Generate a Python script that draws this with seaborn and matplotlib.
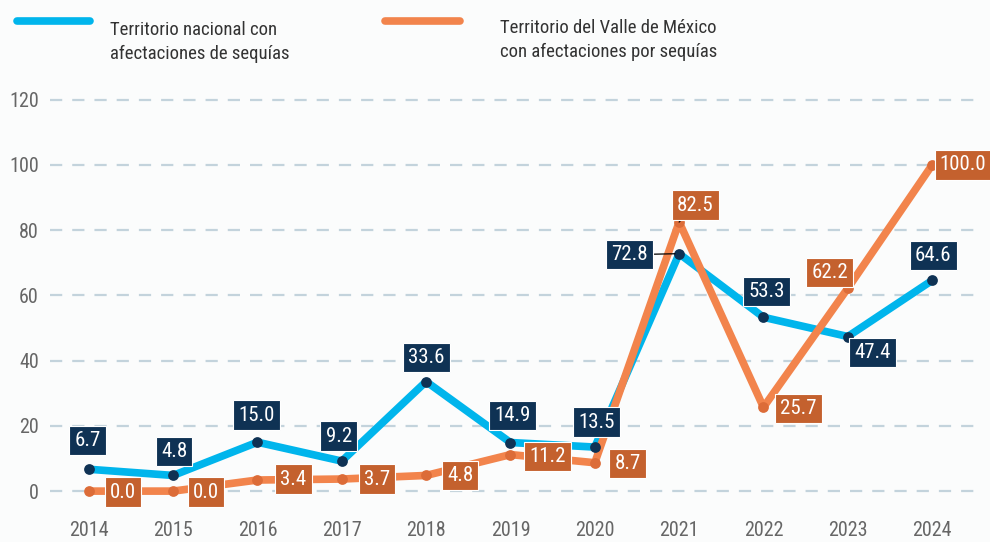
import matplotlib
matplotlib.use('Agg')
import matplotlib.pyplot as plt
from matplotlib import font_manager
from matplotlib.lines import Line2D
import pandas as pd
import seaborn as sns

# Data
years = [2014, 2015, 2016, 2017, 2018, 2019, 2020, 2021, 2022, 2023, 2024]
nacional = [6.7, 4.8, 15.0, 9.2, 33.6, 14.9, 13.5, 72.8, 53.3, 47.4, 64.6]
valle = [0.0, 0.0, 3.4, 3.7, 4.8, 11.2, 8.7, 82.5, 25.7, 62.2, 100.0]
y_ticks = [0, 20, 40, 60, 80, 100, 120]
label_nacional = 'Territorio nacional con\nafectaciones de sequías'
label_valle = 'Territorio del Valle de México\ncon afectaciones por sequías'

# label offsets in pixels (dx, dy)
off_nacional = [(-1, 29), (1, 24), (-1, 27), (-3, 25), (0, 24), (2, 27), (2, 25),
                (-50, -1), (3, 26), (25, -16), (1, 25)]
off_valle = [(34, -1), (33, -1), (36, 1), (35, 0), (34, 0), (37, -2), (33, -1),
             (16, 17), (35, -1), (-18, 16), (31, 0)]
leader_nacional = [False] * 7 + [True] + [False] * 3
leader_valle = [False] * 7 + [True] + [False] * 3

names = {f.name for f in font_manager.fontManager.ttflist}
family = next((n for n in ['Roboto Condensed', 'Liberation Sans Narrow', 'Open Sans Condensed',
                           'Noto Sans Condensed', 'DejaVu Sans'] if n in names), 'DejaVu Sans')

sns.set_style('white')
plt.rcParams['font.family'] = [family, 'DejaVu Sans']
plt.rcParams['font.stretch'] = 'condensed'

BLUE = '#00b5ec'
ORANGE = '#f2844c'
NAVY = '#0f3254'
RUST = '#c4612e'
BG = '#fbfcfc'

df = pd.DataFrame({
    'year': years * 2,
    'value': nacional + valle,
    'serie': ['nacional'] * len(years) + ['valle'] * len(years),
})

fig = plt.figure(figsize=(9.9, 5.42), dpi=100, facecolor=BG)
ax = fig.add_axes([0.0505, 0.059, 0.9345, 0.766])
ax.set_facecolor(BG)

for y in y_ticks:
    ax.axhline(y, color='#c3d3dc', lw=1.6, ls=(0, (5.5, 4.5)), zorder=0)

sns.lineplot(data=df, x='year', y='value', hue='serie', hue_order=['nacional', 'valle'],
             palette={'nacional': BLUE, 'valle': ORANGE}, lw=5.5, legend=False, ax=ax,
             solid_capstyle='round', solid_joinstyle='round')
ax.lines[-1].set_zorder(3)
ax.lines[-2].set_zorder(2)
ax.scatter(years, valle, s=60, color='#dc6c38', zorder=4, linewidths=0)
ax.scatter(years, nacional, s=60, color=NAVY, zorder=5, linewidths=0)


def labels(vals, offs, leads, fc):
    for x, v, (dx, dy), lead in zip(years, vals, offs, leads):
        ax.annotate(f'{v:.1f}', (x, v), xytext=(dx, dy), textcoords='offset pixels',
                    ha='center', va='center', fontsize=15, color='white', zorder=6,
                    bbox=dict(boxstyle='square,pad=0.25', fc=fc, ec='white', lw=0.8),
                    arrowprops=dict(arrowstyle='-', color='black', lw=0.9,
                                    shrinkA=0, shrinkB=3) if lead else None)


labels(nacional, off_nacional, leader_nacional, NAVY)
labels(valle, off_valle, leader_valle, RUST)

ax.set_xlim(2013.54, 2024.51)
ax.set_ylim(-5.8, 121.5)
ax.set_xticks(years)
ax.set_xticklabels([str(y) for y in years])
ax.set_yticks(y_ticks)
ax.tick_params(axis='both', length=0, labelsize=14.5, labelcolor='#666666')
ax.tick_params(axis='y', pad=8)
ax.tick_params(axis='x', pad=8)
ax.set_xlabel('')
ax.set_ylabel('')
sns.despine(ax=ax, left=True, bottom=True)

# legend
fig.add_artist(Line2D([17 / 990, 90 / 990], [1 - 21 / 542] * 2, color=BLUE, lw=5.5,
                      solid_capstyle='round', transform=fig.transFigure))
fig.add_artist(Line2D([385 / 990, 460 / 990], [1 - 21 / 542] * 2, color=ORANGE, lw=5.5,
                      solid_capstyle='round', transform=fig.transFigure))
fig.text(110 / 990, 1 - 42 / 542, label_nacional, fontsize=13.5, color='#333333',
         va='center', ha='left', linespacing=1.35)
fig.text(500 / 990, 1 - 40 / 542, label_valle, fontsize=13.5, color='#333333',
         va='center', ha='left', linespacing=1.35)

fig.savefig('out.png', dpi=100, facecolor=BG)
